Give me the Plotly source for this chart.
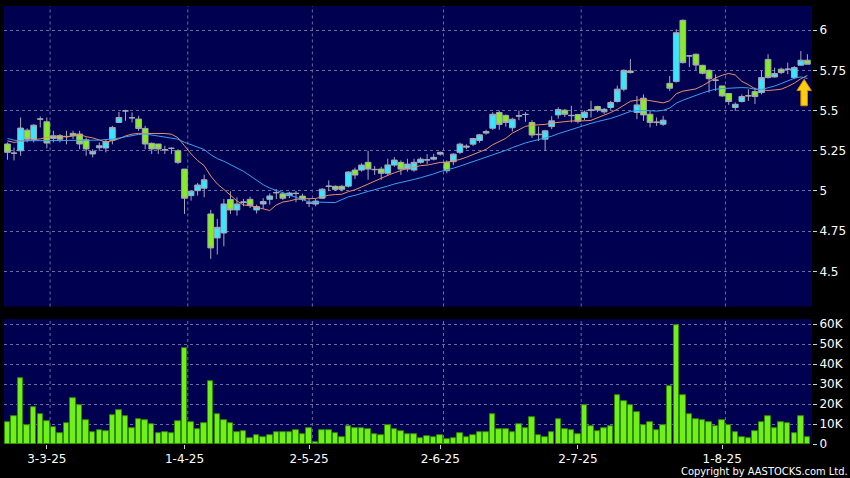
import pandas as pd
import plotly.graph_objects as go
from plotly.subplots import make_subplots

# ---- trading calendar (HK) ----
start_date = "2025-02-21"
end_date = "2025-08-20"
holidays = ["2025-04-04", "2025-04-18", "2025-04-21", "2025-05-01", "2025-05-05", "2025-07-01"]
dates = [d for d in pd.bdate_range(start_date, end_date) if d.strftime("%Y-%m-%d") not in holidays]

# ---- daily OHLC ----
opens = [5.292, 5.235, 5.25, 5.378, 5.322, 5.447, 5.43, 5.327, 5.343, 5.339,
         5.358, 5.354, 5.318, 5.23, 5.269, 5.267, 5.316, 5.426, 5.498, 5.455,
         5.447, 5.389, 5.296, 5.292, 5.256, 5.265, 5.25, 5.136, 4.971, 5.002,
         5.017, 4.857, 4.708, 4.739, 4.947, 4.882, 4.928, 4.948, 4.882, 4.919,
         4.948, 4.989, 4.982, 4.971, 4.985, 4.968, 4.925, 4.919, 4.955, 5.028,
         5.029, 5.029, 5.03, 5.13, 5.13, 5.178, 5.132, 5.136, 5.11, 5.161,
         5.178, 5.136, 5.13, 5.178, 5.192, 5.198, 5.24, 5.178, 5.182, 5.24,
         5.272, 5.291, 5.314, 5.37, 5.39, 5.488, 5.47, 5.393, 5.465, 5.475,
         5.426, 5.35, 5.322, 5.40, 5.473, 5.502, 5.468, 5.475, 5.457, 5.5,
         5.525, 5.492, 5.519, 5.556, 5.633, 5.746, 5.488, 5.577, 5.477, 5.426,
         5.415, 5.669, 5.68, 6.061, 5.84, 5.85, 5.781, 5.75, 5.688, 5.653,
         5.606, 5.519, 5.556, 5.591, 5.618, 5.612, 5.818, 5.709, 5.757, 5.757,
         5.705, 5.782, 5.813]
highs = [5.302, 5.27, 5.457, 5.389, 5.415, 5.463, 5.457, 5.374, 5.354, 5.374,
         5.374, 5.374, 5.333, 5.26, 5.302, 5.322, 5.405, 5.492, 5.505, 5.488,
         5.467, 5.405, 5.302, 5.292, 5.281, 5.271, 5.26, 5.136, 5.002, 5.05,
         5.101, 4.882, 4.826, 4.95, 4.998, 4.96, 4.95, 4.965, 4.915, 4.955,
         4.985, 5.012, 4.995, 4.995, 5.0, 4.983, 4.95, 4.95, 5.018, 5.066,
         5.035, 5.038, 5.122, 5.145, 5.172, 5.25, 5.155, 5.15, 5.2, 5.21,
         5.19, 5.2, 5.2, 5.21, 5.229, 5.23, 5.245, 5.19, 5.235, 5.3,
         5.29, 5.33, 5.355, 5.38, 5.49, 5.5, 5.475, 5.455, 5.5, 5.49,
         5.44, 5.40, 5.38, 5.465, 5.52, 5.51, 5.53, 5.48, 5.5, 5.56,
         5.53, 5.515, 5.56, 5.655, 5.755, 5.82, 5.591, 5.60, 5.498, 5.457,
         5.467, 5.715, 6.005, 6.067, 5.845, 5.855, 5.785, 5.756, 5.725, 5.653,
         5.606, 5.55, 5.60, 5.632, 5.643, 5.746, 5.85, 5.767, 5.767, 5.798,
         5.777, 5.87, 5.85]
lows = [5.194, 5.19, 5.219, 5.302, 5.302, 5.395, 5.265, 5.302, 5.302, 5.29,
        5.322, 5.26, 5.219, 5.209, 5.25, 5.24, 5.29, 5.422, 5.436, 5.426,
        5.374, 5.26, 5.23, 5.23, 5.23, 5.23, 5.167, 4.857, 4.94, 4.971,
        4.961, 4.578, 4.605, 4.656, 4.857, 4.847, 4.905, 4.894, 4.86, 4.89,
        4.915, 4.95, 4.945, 4.955, 4.93, 4.935, 4.9, 4.905, 4.95, 4.999,
        5.0, 4.998, 5.022, 5.075, 5.12, 5.07, 5.1, 5.07, 5.095, 5.15,
        5.1, 5.12, 5.12, 5.17, 5.167, 5.19, 5.22, 5.11, 5.16, 5.23,
        5.26, 5.28, 5.30, 5.35, 5.38, 5.38, 5.40, 5.37, 5.44, 5.43,
        5.33, 5.31, 5.25, 5.385, 5.45, 5.46, 5.425, 5.42, 5.44, 5.457,
        5.49, 5.48, 5.505, 5.55, 5.62, 5.73, 5.446, 5.436, 5.395, 5.405,
        5.405, 5.622, 5.674, 5.792, 5.77, 5.75, 5.725, 5.612, 5.622, 5.585,
        5.535, 5.498, 5.55, 5.56, 5.54, 5.60, 5.70, 5.705, 5.726, 5.726,
        5.695, 5.777, 5.788]
closes = [5.240, 5.235, 5.391, 5.322, 5.409, 5.447, 5.298, 5.343, 5.322, 5.339,
          5.343, 5.292, 5.261, 5.246, 5.281, 5.308, 5.395, 5.457, 5.498, 5.455,
          5.389, 5.292, 5.261, 5.261, 5.256, 5.265, 5.178, 4.955, 4.998, 5.037,
          5.07, 4.646, 4.774, 4.919, 4.882, 4.919, 4.932, 4.909, 4.903, 4.934,
          4.969, 4.99, 4.955, 4.987, 4.985, 4.948, 4.925, 4.937, 5.011, 5.03,
          5.01, 5.01, 5.118, 5.099, 5.161, 5.136, 5.134, 5.11, 5.162, 5.192,
          5.136, 5.167, 5.178, 5.198, 5.194, 5.209, 5.229, 5.126, 5.229, 5.291,
          5.278, 5.326, 5.349, 5.36, 5.477, 5.413, 5.426, 5.446, 5.468, 5.476,
          5.348, 5.352, 5.374, 5.436, 5.506, 5.477, 5.47, 5.433, 5.49, 5.504,
          5.503, 5.508, 5.55, 5.633, 5.75, 5.736, 5.535, 5.473, 5.426, 5.428,
          5.44, 5.639, 5.984, 5.798, 5.84, 5.783, 5.732, 5.698, 5.689, 5.591,
          5.556, 5.539, 5.587, 5.592, 5.587, 5.705, 5.705, 5.73, 5.736, 5.757,
          5.767, 5.813, 5.788]
volumes_k = [11, 14, 32.8, 9.3, 18.2, 15, 11.5, 8.2, 5.3, 10.3,
             22.8, 19.5, 11.7, 5.8, 6.7, 6.5, 14.5, 17, 14, 7.8,
             12.3, 12, 9.8, 5.5, 6, 5.5, 11.2, 48, 11, 7.3,
             10.5, 31.5, 14.8, 11.8, 10.5, 6, 6.5, 3, 4.5, 3.3,
             4.5, 6, 5.7, 5.7, 7, 4.8, 7.7, 1, 7, 7,
             5.3, 3.3, 9, 8, 8, 7.2, 5, 4.2, 9.5, 7.3,
             6.5, 4.8, 4.8, 3, 4, 3.5, 4.2, 2.2, 3, 5.5,
             3.2, 4.5, 5.8, 6, 15, 7.2, 7.3, 5.8, 9.8, 8,
             13.3, 4.5, 3.2, 5.8, 12.3, 7.2, 6.7, 4.8, 19.5, 8.7,
             6.2, 7.7, 8.7, 24.7, 21.3, 19.3, 16, 9.2, 11, 6.7,
             9.3, 29, 59.5, 24.5, 14.8, 12.5, 11.8, 10.7, 9, 11.8,
             9.3, 5.7, 3.2, 2.8, 6.5, 11, 14, 8, 11, 10.5,
             5.3, 13.7, 3.5]

ma10_head = [5.312, 5.302, 5.308, 5.312, 5.316, 5.324, 5.333, 5.339, 5.343]
ma20_head = [5.327, 5.316, 5.312, 5.312, 5.312, 5.312, 5.312, 5.312, 5.312, 5.312,
             5.312, 5.312, 5.313, 5.314, 5.316, 5.32, 5.322, 5.329, 5.337]

price_ticks = [4.5, 4.75, 5, 5.25, 5.5, 5.75, 6]
price_tick_text = ["4.5", "4.75", "5", "5.25", "5.5", "5.75", "6"]
vol_ticks = [0, 10, 20, 30, 40, 50, 60]
vol_tick_text = ["0", "10K", "20K", "30K", "40K", "50K", "60K"]

n = len(closes)
idx = list(range(n))
cs = pd.Series(closes)
ma10 = list(ma10_head) + list(cs.rolling(10).mean().iloc[len(ma10_head):])
ma20 = list(ma20_head) + list(cs.rolling(20).mean().iloc[len(ma20_head):])

# month starts -> ticks
month_idx = []
month_lbl = []
for i, d in enumerate(dates):
    if i > 0 and d.month != dates[i - 1].month:
        month_idx.append(i)
        month_lbl.append(f"{d.day}-{d.month}-{d.strftime('%y')}")

NAVY = "#000050"
GRID = "#6c6ca0"
WICK = "#a8a8b8"
FONT = dict(color="white", size=12, family="DejaVu Sans")

fig = make_subplots(rows=2, cols=1, shared_xaxes=True)

fig.add_trace(go.Candlestick(
    x=idx, open=opens, high=highs, low=lows, close=closes,
    increasing=dict(fillcolor="#33e8ff", line=dict(color=WICK, width=1)),
    decreasing=dict(fillcolor="#84ee22", line=dict(color=WICK, width=1)),
    whiskerwidth=0, showlegend=False, hoverinfo="skip"), row=1, col=1)

fig.add_trace(go.Scatter(x=idx, y=ma10, mode="lines",
                         line=dict(color="#e8906a", width=1), showlegend=False), row=1, col=1)
fig.add_trace(go.Scatter(x=idx, y=ma20, mode="lines",
                         line=dict(color="#3aa0f0", width=1), showlegend=False), row=1, col=1)

fig.add_trace(go.Bar(x=idx, y=volumes_k, width=0.84,
                     marker=dict(color="#70f018", line=dict(color="#2f8a00", width=1)),
                     showlegend=False), row=2, col=1)

# vertical month grid lines (drawn at the right edge of the first bar of each month)
for mi in month_idx:
    for yr in ["y domain", "y2 domain"]:
        fig.add_shape(type="line", xref="x", yref=yr, x0=mi + 0.5, x1=mi + 0.5, y0=0, y1=1,
                      line=dict(color=GRID, width=1, dash="3px,3px"), layer="below")

# arrow marker at the last bar
xa = n - 1.5
ya = ma20[-1] - 0.005
path = (f"M {xa},{ya} L {xa+1.1},{ya-0.07} L {xa+0.5},{ya-0.07} L {xa+0.5},{ya-0.165} "
        f"L {xa-0.5},{ya-0.165} L {xa-0.5},{ya-0.07} L {xa-1.1},{ya-0.07} Z")
fig.add_shape(type="path", path=path, xref="x", yref="y",
              fillcolor="#ffcc10", line=dict(color="#d08a00", width=1))

xr = [-0.53, n - 0.3]
fig.update_xaxes(range=xr, showgrid=False, zeroline=False, showline=False)
fig.update_xaxes(row=1, col=1, showticklabels=False, ticks="")
fig.update_xaxes(row=2, col=1, tickmode="array", tickvals=month_idx, ticktext=month_lbl,
                 ticks="outside", ticklen=4, tickcolor="#d0d0d0", tickfont=FONT)
fig.update_layout(xaxis_rangeslider_visible=False)

fig.update_yaxes(row=1, col=1, domain=[0.314, 1], range=[4.282, 6.15], side="right",
                 tickmode="array", tickvals=price_ticks, ticktext=price_tick_text,
                 showgrid=True, gridcolor=GRID, griddash="3px,3px", gridwidth=1,
                 zeroline=False, ticks="outside", ticklen=4, tickcolor="#d0d0d0", tickfont=FONT)
fig.update_yaxes(row=2, col=1, domain=[0, 0.285], range=[0, 62.5], side="right",
                 tickmode="array", tickvals=vol_ticks, ticktext=vol_tick_text,
                 showgrid=True, gridcolor=GRID, griddash="3px,3px", gridwidth=1,
                 zeroline=False, ticks="outside", ticklen=4, tickcolor="#d0d0d0", tickfont=FONT)

fig.add_annotation(text="Copyright by AASTOCKS.com Ltd.", xref="paper", yref="paper",
                   x=1.047, y=-0.062, xanchor="right", yanchor="middle", showarrow=False,
                   font=dict(color="white", size=11, family="DejaVu Sans Condensed, Liberation Sans"))

fig.update_layout(width=850, height=478, margin=dict(l=4, r=35, t=5, b=34),
                  paper_bgcolor="black", plot_bgcolor=NAVY, bargap=0,
                  boxgap=0.13, boxgroupgap=0)

fig.write_html("out.html", config={"displayModeBar": False},
               post_script="document.body.style.margin='0px';")
